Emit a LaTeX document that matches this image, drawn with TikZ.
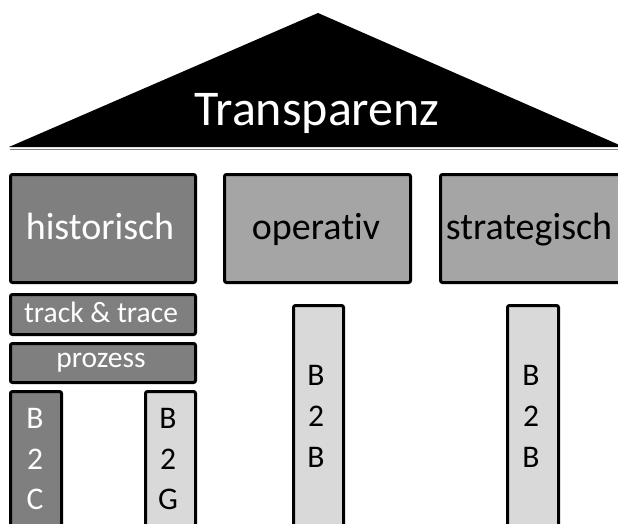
\documentclass[tikz,border=0pt]{standalone}
\usepackage{fontspec}
\setmainfont[Ligatures=NoCommon]{Carlito}
\definecolor{gdark}{HTML}{7F7F7F}
\definecolor{gmid}{HTML}{A5A5A5}
\definecolor{glight}{HTML}{D9D9D9}
\begin{document}
\begin{tikzpicture}[x=1pt,y=-1pt,
  box/.style={draw=black, line width=3pt, rounded corners=2pt, inner sep=0pt, anchor=north west},
  darkbox/.style={box, fill=gdark},
  midbox/.style={box, fill=gmid},
  lightbox/.style={box, fill=glight},
  bigtxt/.style={font=\fontsize{38}{44}\selectfont, anchor=base, inner sep=0pt},
  smalltxt/.style={font=\fontsize{29.5}{34}\selectfont, anchor=base, inner sep=0pt, text=white},
  coltxt/.style={font=\fontsize{31.5}{34}\selectfont, anchor=base, inner sep=0pt}
]
\useasboundingbox (0,0) rectangle (618,524);
\clip (0,0) rectangle (618,524);
% roof
\draw[gray, line width=1.5pt] (10,149.5) -- (620,149.5);
\fill[black] (9,147) -- (318,13) -- (624,147) -- cycle;
\node[anchor=base, inner sep=0pt, text=white, font=\fontsize{50}{60}\selectfont] (roof) at (317,125) {Transparenz};
% pillars
\node[darkbox, minimum width=185pt, minimum height=108pt] (hist) at (9,173) {};
\node[bigtxt, text=white] (histt) at (100,239) {historisch};
\node[midbox, minimum width=186pt, minimum height=108pt] (oper) at (223,173) {};
\node[bigtxt] (opert) at (316,239) {opera\kern0pt tiv};
\node[midbox, minimum width=187pt, minimum height=108pt] (strat) at (439,173) {};
\node[bigtxt] (stratt) at (529,239) {strategisch};
% historisch sub boxes
\node[darkbox, minimum width=185pt, minimum height=40pt] (track) at (9,293) {};
\node[smalltxt] (trackt) at (101,322) {track \& trace};
\node[darkbox, minimum width=185pt, minimum height=39pt] (proz) at (9,342) {};
\node[smalltxt] (prozt) at (101,367) {prozess};
\node[darkbox, minimum width=51pt, minimum height=140pt] (b2c) at (9,390) {};
\node[coltxt, text=white] (b2c1) at (35,428) {B};
\node[coltxt, text=white] (b2c2) at (35,469) {2};
\node[coltxt, text=white] (b2c3) at (35,509) {C};
\node[lightbox, minimum width=50pt, minimum height=140pt] (b2g) at (144,390) {};
\node[coltxt] (b2g1) at (168,428) {B};
\node[coltxt] (b2g2) at (168,469) {2};
\node[coltxt] (b2g3) at (168,509) {G};
% B2B columns
\node[lightbox, minimum width=50pt, minimum height=230pt] (b2b1) at (292,304) {};
\node[coltxt] (b2b11) at (316,385) {B};
\node[coltxt] (b2b12) at (316,426) {2};
\node[coltxt] (b2b13) at (316,467) {B};
\node[lightbox, minimum width=51pt, minimum height=230pt] (b2b2) at (506,304) {};
\node[coltxt] (b2b21) at (531,385) {B};
\node[coltxt] (b2b22) at (531,426) {2};
\node[coltxt] (b2b23) at (531,467) {B};
\end{tikzpicture}
\end{document}
